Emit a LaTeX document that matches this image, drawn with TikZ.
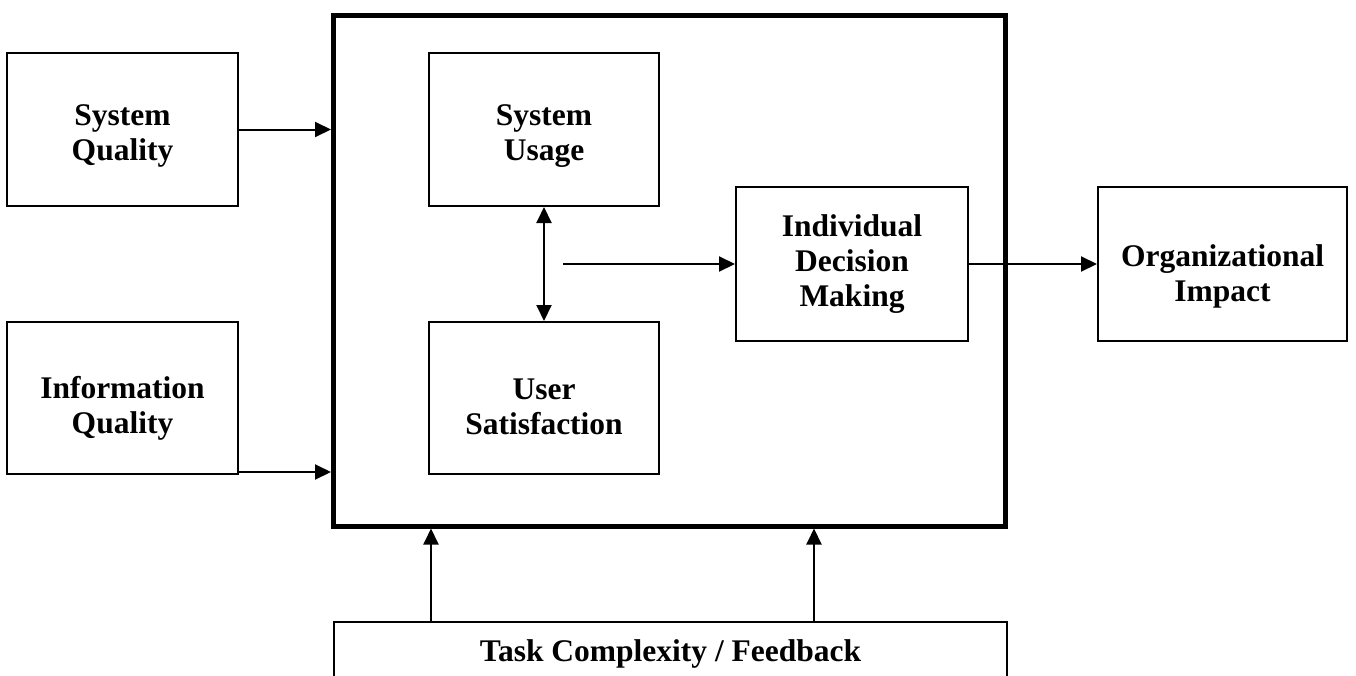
\documentclass[tikz,border=0pt]{standalone}
\usepackage{fontspec}
\setmainfont{Liberation Serif}
\usetikzlibrary{arrows.meta}
\newcommand\txtshift[1]{\rule{0pt}{\dimexpr 22pt+#1pt+#1pt\relax}}
\tikzset{
  box/.style={draw, line width=2pt, align=center, font=\fontsize{31.5}{35}\selectfont\bfseries, inner sep=0pt},
  frame/.style={draw, line width=5pt, inner sep=0pt},
  conn/.style={line width=2pt, -{Triangle[length=16pt,width=15pt]}},
  dconn/.style={line width=2pt, {Triangle[length=16pt,width=15pt]}-{Triangle[length=16pt,width=15pt]}}
}
\begin{document}
\begin{tikzpicture}[x=1pt,y=-1pt]
\useasboundingbox (0,0) rectangle (1356,675);
\clip (0,0) rectangle (1356,675);
\node[frame, minimum width=672pt, minimum height=511pt] (big) at (669.5,270.5) {};
\node[box, minimum width=231pt, minimum height=153pt] (sq) at (122.5,129.5) {\txtshift{6}System\\Quality};
\node[box, minimum width=231pt, minimum height=152pt] (iq) at (122.5,398) {\txtshift{10}Information\\Quality};
\node[box, minimum width=230pt, minimum height=153pt] (su) at (544,129.5) {\txtshift{6}System\\Usage};
\node[box, minimum width=230pt, minimum height=152pt] (us) at (544,398) {\txtshift{8}User\\Satisfaction};
\node[box, minimum width=232pt, minimum height=154pt] (idm) at (852,264) {Individual\\Decision\\Making};
\node[box, minimum width=249pt, minimum height=154pt] (oi) at (1222.5,264) {\txtshift{12}Organizational\\Impact};
\node[box, minimum width=673pt, minimum height=58pt] (task) at (670.5,651) {\txtshift{3}Task Complexity / Feedback};
\coordinate (iqy) at (0,472);
\coordinate (start) at (563,264);
\coordinate (t1) at (431,0);
\coordinate (t2) at (814,0);
\draw[conn] (sq.east) -- (big.west |- sq.east);
\draw[conn] (iq.east |- iqy) -- (big.west |- iqy);
\draw[dconn] (su.south) -- (us.north);
\draw[conn] (start) -- (idm.west);
\draw[conn] (idm.east) -- (oi.west);
\draw[conn] (task.north -| t1) -- (big.south -| t1);
\draw[conn] (task.north -| t2) -- (big.south -| t2);
\end{tikzpicture}
\end{document}
